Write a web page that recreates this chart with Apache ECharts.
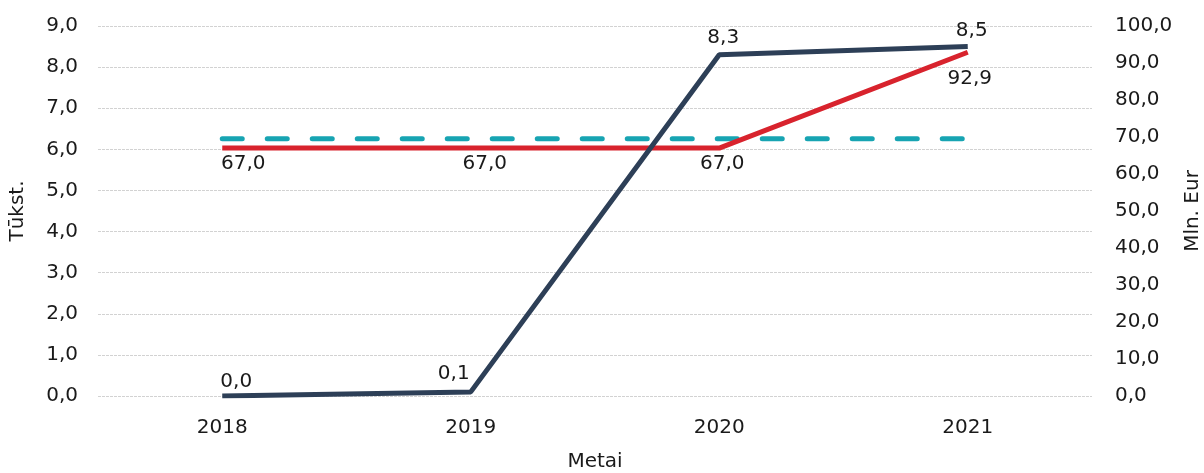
<!DOCTYPE html>
<html>
<head>
<meta charset="utf-8">
<script src="https://cdn.jsdelivr.net/npm/echarts@6/dist/echarts.min.js"></script>
<style>
  html, body { margin: 0; padding: 0; background: #fff; }
  #chart { width: 1204px; height: 473px; }
</style>
</head>
<body>
<div id="chart"></div>
<script>
// Years on the category axis
var years = ['2018', '2019', '2020', '2021'];
// Thousands (left axis)
var thousands = [0.0, 0.1, 8.3, 8.5];
// Million EUR (right axis)
var millionEur = [67.0, 67.0, 67.0, 92.9];
// Reference level (right axis)
var referenceLevel = [69.5, 69.5, 69.5, 69.5];

// Nudges [x, y] for individual value labels
var thousandsLabelShift = [[14, 2], [-17, -2], [4, -1], [4, 0]];
var eurLabelShift = [[21, 0], [14, 0], [3, 0], [2, 11]];

var FONT = '"DejaVu Sans", Verdana, sans-serif';
var TEXT = '#1a1a1a';

function fmt(v) { return v.toFixed(1).replace('.', ','); }

function withShift(values, shifts) {
  return values.map(function (v, i) {
    return { value: v, label: { offset: shifts[i] } };
  });
}

var chart = echarts.init(document.getElementById('chart'), null, { renderer: 'canvas' });

// Transparent markers so the value labels have an anchor
var hiddenMarker = {
  symbol: 'circle', symbolSize: 2, showSymbol: true,
  itemStyle: { color: 'rgba(0,0,0,0)', borderWidth: 0 }
};

chart.setOption({
  animation: false,
  backgroundColor: '#ffffff',
  textStyle: { fontFamily: FONT },
  grid: {
    left: 98, right: 112, top: 26, bottom: 77,
    containLabel: false, outerBoundsMode: 'none'
  },
  xAxis: {
    type: 'category',
    data: years,
    boundaryGap: true,
    name: 'Metai',
    nameLocation: 'middle',
    nameGap: 56,
    nameTextStyle: { fontFamily: FONT, fontSize: 20, color: TEXT },
    axisLine: { show: false },
    axisTick: { show: false },
    axisLabel: { fontFamily: FONT, fontSize: 20, color: TEXT, margin: 22 }
  },
  yAxis: [
    {
      type: 'value',
      min: 0, max: 9, interval: 1,
      name: 'Tūkst.',
      nameLocation: 'middle',
      nameRotate: 90,
      nameGap: 70,
      nameTextStyle: { fontFamily: FONT, fontSize: 20, color: TEXT },
      axisLine: { show: false },
      axisTick: { show: false },
      axisLabel: { fontFamily: FONT, fontSize: 20, color: TEXT, margin: 20, formatter: fmt },
      splitLine: { show: true, lineStyle: { color: '#d2d2d2', width: 1, type: [3, 1] } }
    },
    {
      type: 'value',
      min: 0, max: 100, interval: 10,
      name: 'Mln. Eur',
      nameLocation: 'middle',
      nameRotate: 90,
      nameGap: 88,
      nameTextStyle: { fontFamily: FONT, fontSize: 20, color: TEXT },
      axisLine: { show: false },
      axisTick: { show: false },
      axisLabel: { fontFamily: FONT, fontSize: 20, color: TEXT, margin: 23, formatter: fmt },
      splitLine: { show: false }
    }
  ],
  series: [
    {
      name: 'Reference',
      type: 'line',
      yAxisIndex: 1,
      data: referenceLevel,
      symbol: 'none',
      z: 1,
      lineStyle: { color: '#17a4b2', width: 5, type: [20, 25], cap: 'round' }
    },
    Object.assign({
      name: 'Mln. Eur',
      type: 'line',
      yAxisIndex: 1,
      data: withShift(millionEur, eurLabelShift),
      z: 2,
      lineStyle: { color: '#d8232d', width: 5 },
      label: {
        show: true, position: 'bottom', distance: 5,
        fontFamily: FONT, fontSize: 20, color: TEXT,
        formatter: function (p) { return fmt(p.value); }
      }
    }, hiddenMarker),
    Object.assign({
      name: 'Tūkst.',
      type: 'line',
      yAxisIndex: 0,
      data: withShift(thousands, thousandsLabelShift),
      z: 3,
      lineStyle: { color: '#2d3f57', width: 5 },
      label: {
        show: true, position: 'top', distance: 5,
        fontFamily: FONT, fontSize: 20, color: TEXT,
        formatter: function (p) { return fmt(p.value); }
      }
    }, hiddenMarker)
  ]
});
</script>
</body>
</html>
